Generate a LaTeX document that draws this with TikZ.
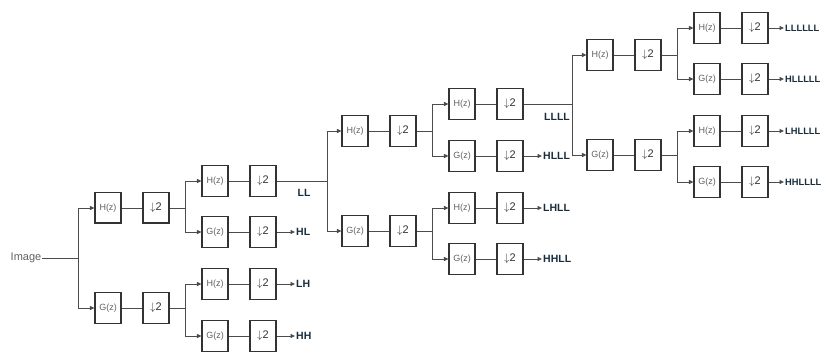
\documentclass[tikz,border=0pt]{standalone}
\usepackage{fontspec}
\setmainfont{Liberation Sans}
\usetikzlibrary{arrows.meta}
\definecolor{boxc}{gray}{0.2}
\definecolor{linec}{gray}{0.3}
\definecolor{txtc}{gray}{0.38}
\definecolor{labc}{RGB}{25,45,60}
\tikzset{
  fbox/.style={draw=boxc,line width=1.1pt,minimum width=26pt,minimum height=31pt,inner sep=0pt,font=\fontsize{9}{10}\selectfont,text=txtc},
  dbox/.style={fbox,font=\fontsize{11}{12}\selectfont,text=boxc},
  conn/.style={draw=linec,line width=0.9pt},
  arr/.style={conn,-{Triangle[length=4.5pt,width=4pt]}},
  lab/.style={font=\bfseries\fontsize{10.5}{11}\selectfont,text=labc,inner sep=1pt,anchor=west},
  labsix/.style={lab,font=\bfseries\fontsize{9.3}{10}\selectfont},
  shadowline/.style={draw=boxc,line width=2.6pt}
}
\newcommand{\fstage}[4]{%
  \node[fbox] (#1f) at (#2,#3) {#4};
  \node[dbox] (#1d) at (#2+48,#3) {$\downarrow$2};
  \draw[conn] (#1f) -- (#1d);}
\begin{document}
\begin{tikzpicture}[x=1pt,y=-1pt]
\useasboundingbox (0,0) rectangle (824,353);
% input
\node[font=\fontsize{11}{12}\selectfont,text=txtc,inner sep=1pt] (img) at (26,258) {Image};
\coordinate (s0) at (78,258);
\draw[conn] (img) -- (s0);
% level 1
\fstage{a}{108}{208}{H(z)}
\fstage{b}{108}{308}{G(z)}
\draw[shadowline] ([yshift=1pt]af.south west) -- ([yshift=1pt]af.south east);
\draw[shadowline] ([yshift=1pt]ad.south west) -- ([yshift=1pt]ad.south east);
\draw[arr] (s0) |- (af);
\draw[arr] (s0) |- (bf);
% level 2
\fstage{aa}{215}{181}{H(z)}
\fstage{ab}{215}{232}{G(z)}
\fstage{ba}{215}{284}{H(z)}
\fstage{bb}{215}{336}{G(z)}
\coordinate (s1) at (185,208);
\coordinate (s2) at (185,308);
\draw[conn] (ad) -- (s1);
\draw[arr] (s1) |- (aaf);
\draw[arr] (s1) |- (abf);
\draw[conn] (bd) -- (s2);
\draw[arr] (s2) |- (baf);
\draw[arr] (s2) |- (bbf);
\node[lab] (hl) at (295,232) {HL};
\node[lab] (lh) at (295,284) {LH};
\node[lab] (hh) at (295,336) {HH};
\draw[arr] (abd) -- (hl);
\draw[arr] (bad) -- (lh);
\draw[arr] (bbd) -- (hh);
% level 3
\coordinate (s3) at (327,181);
\draw[conn] (aad) -- (s3);
\node[lab,anchor=center] (ll) at (304,193) {LL};
\fstage{c}{355}{131}{H(z)}
\fstage{d}{355}{231}{G(z)}
\draw[arr] (s3) |- (cf);
\draw[arr] (s3) |- (df);
% level 4
\coordinate (s4) at (432,131);
\coordinate (s5) at (432,231);
\draw[conn] (cd) -- (s4);
\draw[conn] (dd) -- (s5);
\fstage{ca}{462}{104}{H(z)}
\fstage{cb}{462}{156}{G(z)}
\fstage{da}{462}{208}{H(z)}
\fstage{db}{462}{259}{G(z)}
\draw[arr] (s4) |- (caf);
\draw[arr] (s4) |- (cbf);
\draw[arr] (s5) |- (daf);
\draw[arr] (s5) |- (dbf);
\node[lab] (hlll) at (542,156) {HLLL};
\node[lab] (lhll) at (542,208) {LHLL};
\node[lab] (hhll) at (542,259) {HHLL};
\draw[arr] (cbd) -- (hlll);
\draw[arr] (dad) -- (lhll);
\draw[arr] (dbd) -- (hhll);
% level 5
\coordinate (s6) at (572,104);
\draw[conn] (cad) -- (s6);
\node[lab,anchor=center] (llll) at (557,117) {LLLL};
\fstage{e}{600}{55}{H(z)}
\fstage{f}{600}{155}{G(z)}
\draw[arr] (s6) |- (ef);
\draw[arr] (s6) |- (ff);
% level 6
\coordinate (s7) at (677,55);
\coordinate (s8) at (677,155);
\draw[conn] (ed) -- (s7);
\draw[conn] (fd) -- (s8);
\fstage{ea}{707}{28}{H(z)}
\fstage{eb}{707}{79}{G(z)}
\fstage{fa}{707}{131}{H(z)}
\fstage{fb}{707}{182}{G(z)}
\draw[arr] (s7) |- (eaf);
\draw[arr] (s7) |- (ebf);
\draw[arr] (s8) |- (faf);
\draw[arr] (s8) |- (fbf);
\node[labsix] (l6a) at (784,28) {LLLLLL};
\node[labsix] (l6b) at (784,79) {HLLLLL};
\node[labsix] (l6c) at (784,131) {LHLLLL};
\node[labsix] (l6d) at (784,182) {HHLLLL};
\draw[arr] (ead) -- (l6a);
\draw[arr] (ebd) -- (l6b);
\draw[arr] (fad) -- (l6c);
\draw[arr] (fbd) -- (l6d);
\end{tikzpicture}
\end{document}
